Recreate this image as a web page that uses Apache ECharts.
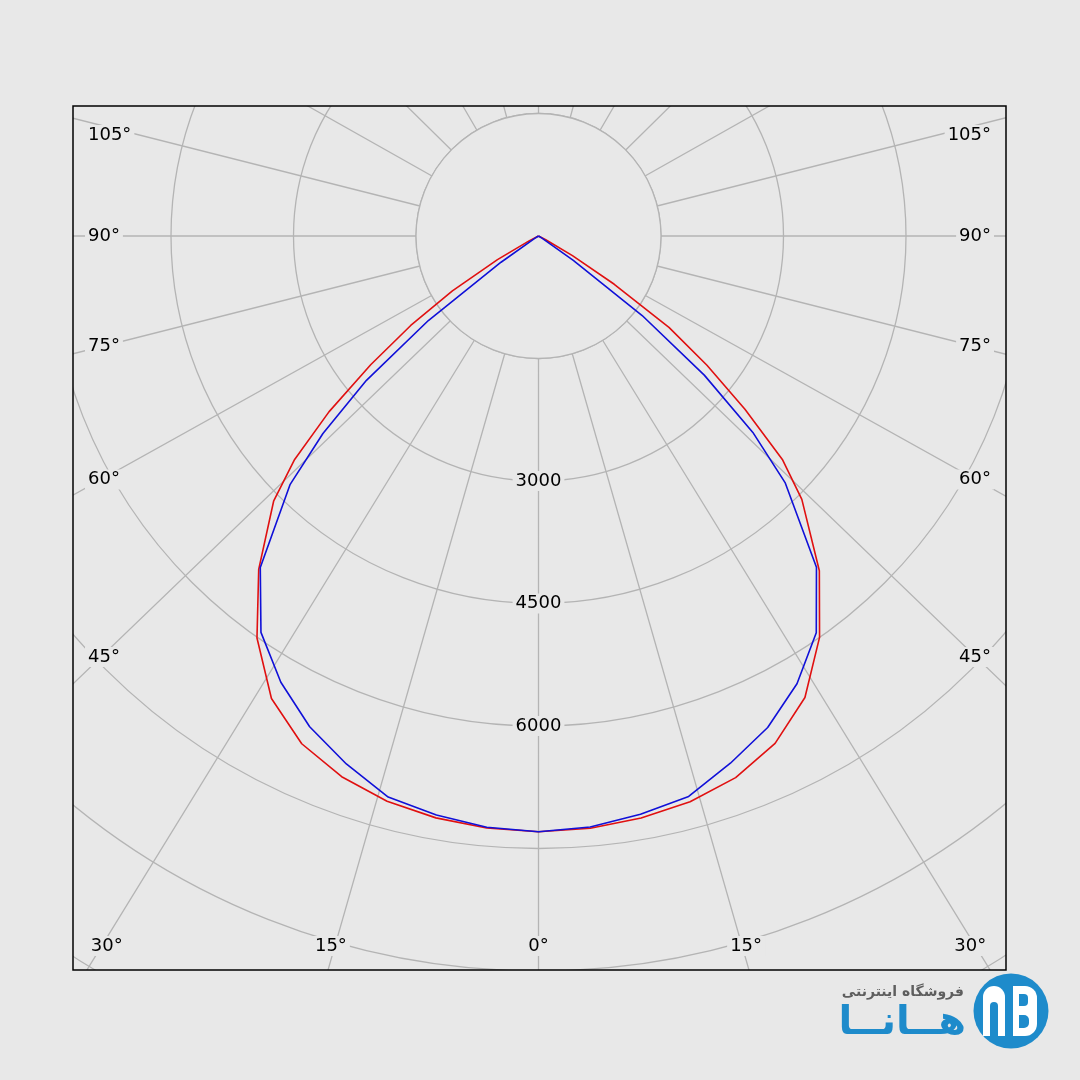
<!DOCTYPE html>
<html><head><meta charset="utf-8">
<script src="https://cdn.jsdelivr.net/npm/echarts@6/dist/echarts.min.js"></script>
<style>html,body{margin:0;padding:0;background:#e8e8e8;}#c{width:1080px;height:1080px;}</style>
</head><body><div id="c"></div>
<script>
// ---- data (angles in degrees from nadir, intensities in cd) ----
const angles    = [0,5,10,15,20,25,30,35,40,45,47.5,50,52.5,55,57.5,60,62.5,65,70,75,80,85,90];
const redLeft   = [7294,7276,7235,7165,7046,6860,6540,6010,5330,4585,4050,3350,2590,1910,1250,580,130,0,0,0,0,0,0];
const redRight  = [7294,7280,7237,7172,7058,6855,6525,6000,5350,4560,4050,3300,2600,1950,1100,480,100,0,0,0,0,0,0];
const blueLeft  = [7294,7268,7200,7112,6880,6630,6310,5925,5300,4300,3580,2750,1700,560,60,0,0,0,0,0,0,0,0];
const blueRight = [7294,7265,7190,7105,6870,6640,6330,5930,5295,4270,3560,2650,1600,520,50,0,0,0,0,0,0,0,0];
const radiusMin = 0, radiusMax = 12000, radiusStep = 1500;
const innerRing = 1500;
const radiusLabels = [3000, 4500, 6000];
// grid ray directions as drawn in the picture (deg from nadir)
const gridAngles = [0,16,31.6,46.1,60.9,75.8,90,104.2,119.4,134.6,149.8,165,180];
const nominalAngles = [0,15,30,45,60,75,90,105,120,135,150,165,180];
const sideLabelIdx = [3,4,5,6,7];      // 45..105 on the sides
const bottomLabelIdx = [0,1,2];        // 0,15,30 along the bottom

// ---- layout ----
const CX = 538.5, CY = 236, PX_PER_STEP = 122.5;
const FL = 73, FT = 106, FR = 1006, FB = 970;
const BG = '#e8e8e8', GRID = '#b4b4b4';
const FONT = '18px "DejaVu Sans"';

function buildSeries(left, right) {
  const d = [];
  for (let i = angles.length - 1; i >= 1; i--) d.push([left[i], -angles[i]]);
  d.push([left[0], 0]);
  for (let i = 1; i < angles.length; i++) d.push([right[i], angles[i]]);
  return d;
}
const gridValues = [];
gridAngles.forEach(a => { gridValues.push(a); if (a !== 0) gridValues.push(-a); });

const chart = echarts.init(document.getElementById('c'), null, {renderer: 'canvas'});
const option = {
  backgroundColor: BG,
  animation: false,
  polar: { center: [CX, CY], radius: [0, PX_PER_STEP * (radiusMax / radiusStep)] },
  angleAxis: {
    type: 'value', min: -180, max: 180, startAngle: 90, clockwise: false, z: 0,
    axisLine: {show: false}, axisLabel: {show: false},
    axisTick: {show: false, customValues: gridValues},
    splitLine: {show: true, lineStyle: {color: GRID, width: 1.3}}
  },
  radiusAxis: {
    type: 'value', min: radiusMin, max: radiusMax, interval: radiusStep, z: 0,
    axisLine: {show: false}, axisTick: {show: false}, axisLabel: {show: false},
    splitLine: {show: true, lineStyle: {color: GRID, width: 1.3}}
  },
  series: [
    {type: 'line', coordinateSystem: 'polar', data: buildSeries(redLeft, redRight), showSymbol: false, clip: false,
     lineStyle: {color: '#e01010', width: 1.6}, z: 5},
    {type: 'line', coordinateSystem: 'polar', data: buildSeries(blueLeft, blueRight), showSymbol: false, clip: false,
     lineStyle: {color: '#1010d8', width: 1.6}, z: 6}
  ]
};
chart.setOption(option);

function toPx(r, a) {
  let p = null;
  try { p = chart.convertToPixel({polarIndex: 0}, [r, a]); } catch (e) { p = null; }
  if (!p || !isFinite(p[0])) {
    const rr = r * PX_PER_STEP / radiusStep, t = a * Math.PI / 180;
    p = [CX + rr * Math.sin(t), CY + rr * Math.cos(t)];
  }
  return p;
}

// ---- overlay: inner disk, mask outside frame, frame, labels, watermark ----
const g = [];
const ringPx = innerRing * PX_PER_STEP / radiusStep;
g.push({type:'circle', shape:{cx:CX, cy:CY, r:ringPx}, style:{fill:BG, stroke:GRID, lineWidth:1.3}, z:2, silent:true});
g.push({type:'rect', shape:{x:0,y:0,width:1080,height:FT}, style:{fill:BG}, z:50, silent:true});
g.push({type:'rect', shape:{x:0,y:FB,width:1080,height:1080-FB}, style:{fill:BG}, z:50, silent:true});
g.push({type:'rect', shape:{x:0,y:0,width:FL,height:1080}, style:{fill:BG}, z:50, silent:true});
g.push({type:'rect', shape:{x:FR,y:0,width:1080-FR,height:1080}, style:{fill:BG}, z:50, silent:true});
g.push({type:'rect', shape:{x:FL,y:FT,width:FR-FL,height:FB-FT}, style:{fill:'none', stroke:'#000', lineWidth:1.5}, z:60, silent:true});

function txt(text, x, y, align) {
  return {type:'text', z:70, silent:true,
    style:{text:text, x:x, y:y, font:FONT, fill:'#000', align:align, verticalAlign:'middle',
           backgroundColor:BG, padding:[1,3]}};
}
const rad = Math.PI / 180;
sideLabelIdx.forEach(i => {
  const a = gridAngles[i] * rad;
  let y = CY + (CX - 101) * Math.cos(a) / Math.sin(a);
  y = Math.max(y, FT + 29);
  g.push(txt(nominalAngles[i] + '°', 85, y, 'left'));
  g.push(txt(nominalAngles[i] + '°', 994, y, 'right'));
});
bottomLabelIdx.forEach(i => {
  const a = gridAngles[i] * rad;
  const yb = 946;
  const dx = (yb - CY) * Math.tan(a);
  const adj = i === 2 ? 5 : (i === 1 ? -4 : 0);
  g.push(txt(nominalAngles[i] + '°', CX - dx + adj, yb, 'center'));
  if (i !== 0) g.push(txt(nominalAngles[i] + '°', CX + dx - adj, yb, 'center'));
});
radiusLabels.forEach(v => {
  const p = toPx(v, 0);
  g.push(txt(String(v), p[0], p[1], 'center'));
});
// watermark
g.push({type:'text', z:70, silent:true, style:{text:'فروشگاه اینترنتی', x:964, y:992, align:'right', verticalAlign:'middle',
  font:'bold 14px "DejaVu Sans"', fill:'#5e5e5e'}});
g.push({type:'text', z:70, silent:true, style:{text:'هــانــا', x:966, y:1024, align:'right', verticalAlign:'middle',
  font:'bold 40px "DejaVu Sans"', fill:'#1e8bcb'}});
g.push({type:'circle', z:70, silent:true, shape:{cx:1011, cy:1011, r:37.5}, style:{fill:'#1e8bcb'}});
g.push({type:'rect', z:71, silent:true, shape:{x:983, y:986, width:22, height:50, r:[11,11,0,0]}, style:{fill:'#fff'}});
g.push({type:'rect', z:72, silent:true, shape:{x:990, y:1002, width:8, height:34, r:[4,4,0,0]}, style:{fill:'#1e8bcb'}});
g.push({type:'rect', z:71, silent:true, shape:{x:1013, y:986, width:24, height:50, r:[0,12,12,0]}, style:{fill:'#fff'}});
g.push({type:'rect', z:72, silent:true, shape:{x:1019, y:994, width:9, height:12, r:[0,4,4,0]}, style:{fill:'#1e8bcb'}});
g.push({type:'rect', z:72, silent:true, shape:{x:1019, y:1015, width:10, height:13, r:[0,5,5,0]}, style:{fill:'#1e8bcb'}});
chart.setOption({graphic: {elements: g}});
</script></body></html>
